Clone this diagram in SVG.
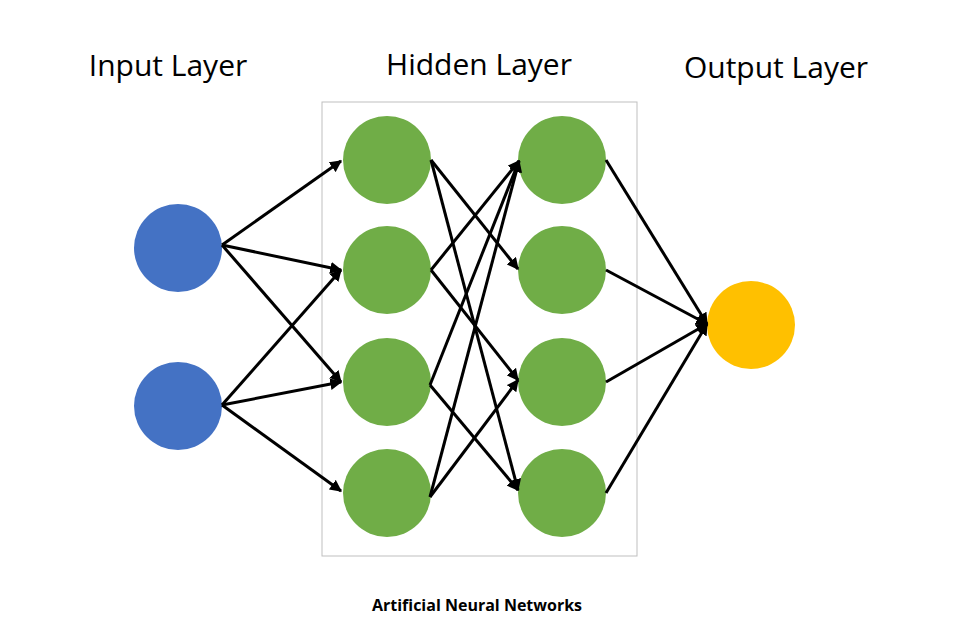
<svg xmlns="http://www.w3.org/2000/svg" width="960" height="640" viewBox="0 0 960 640">
<style>
.t{font-family:"Open Sans","Liberation Sans",sans-serif;font-size:30px;fill:#000;text-anchor:middle}
.c{font-family:"Open Sans","Liberation Sans",sans-serif;font-size:16px;font-weight:bold;text-anchor:middle}
.in{fill:#4472C4}.hd{fill:#70AD47}.out{fill:#FFC000}
#edges line{stroke:#000;stroke-width:3;marker-end:url(#a)}
</style>
<defs><marker id="a" viewBox="0 0 10 10" refX="9" refY="5" markerWidth="4" markerHeight="4" orient="auto"><path d="M0,0L10,5L0,10z" fill="#000"/></marker></defs>
<rect width="960" height="640" fill="#fff"/>
<rect x="322" y="102" width="315" height="454" fill="none" stroke="#BFBFBF" stroke-width="1"/>
<text class="t" x="168" y="76">Input Layer</text>
<text class="t" x="479" y="75">Hidden Layer</text>
<text class="t" x="776" y="78">Output Layer</text>
<text class="c" x="477" y="611">Artificial Neural Networks</text>
<g id="i1"><circle class="in" cx="178" cy="248" r="44"/></g>
<g id="i2"><circle class="in" cx="178" cy="406" r="44"/></g>
<g id="h1"><circle class="hd" cx="387" cy="160" r="44"/></g>
<g id="h2"><circle class="hd" cx="387" cy="270" r="44"/></g>
<g id="h3"><circle class="hd" cx="387" cy="382" r="44"/></g>
<g id="h4"><circle class="hd" cx="387" cy="493" r="44"/></g>
<g id="g1"><circle class="hd" cx="562" cy="160" r="44"/></g>
<g id="g2"><circle class="hd" cx="562" cy="270" r="44"/></g>
<g id="g3"><circle class="hd" cx="562" cy="382" r="44"/></g>
<g id="g4"><circle class="hd" cx="562" cy="493" r="44"/></g>
<g id="o1"><circle class="out" cx="751" cy="325" r="44"/></g>
<g id="edges">
<line x1="222" y1="245" x2="341" y2="161"/>
<line x1="222" y1="245" x2="341" y2="270"/>
<line x1="222" y1="245" x2="341" y2="382"/>
<line x1="222" y1="405" x2="341" y2="270"/>
<line x1="222" y1="405" x2="341" y2="382"/>
<line x1="222" y1="405" x2="341" y2="491"/>
<line x1="431" y1="160" x2="518" y2="269"/>
<line x1="431" y1="160" x2="518" y2="490"/>
<line x1="431" y1="270" x2="519" y2="161"/>
<line x1="431" y1="270" x2="518" y2="380"/>
<line x1="430" y1="385" x2="519" y2="161"/>
<line x1="430" y1="385" x2="518" y2="490"/>
<line x1="430" y1="497" x2="519" y2="161"/>
<line x1="430" y1="497" x2="518" y2="380"/>
<line x1="606" y1="160" x2="707" y2="324"/>
<line x1="606" y1="270" x2="707" y2="324"/>
<line x1="606" y1="382" x2="707" y2="324"/>
<line x1="606" y1="493" x2="707" y2="324"/>
</g>
</svg>
